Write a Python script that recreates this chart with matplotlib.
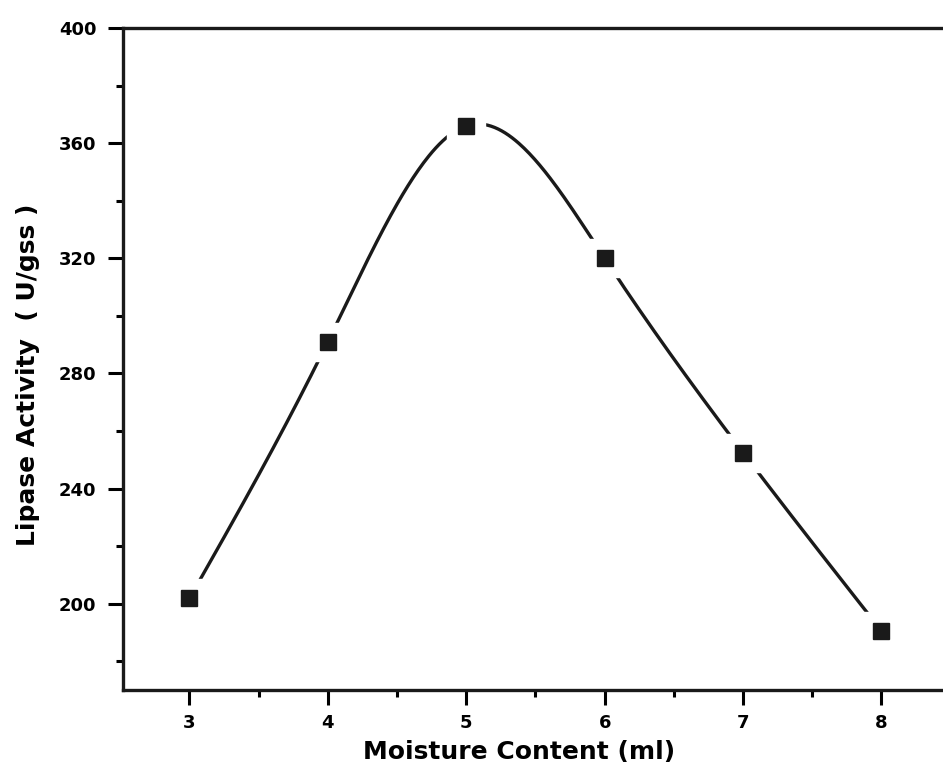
import numpy as np
import matplotlib
matplotlib.use("Agg")
import matplotlib.pyplot as plt
from matplotlib.ticker import MultipleLocator

moisture = [3, 4, 5, 6, 7, 8]
activity = [201.8, 291.0, 366.0, 320.0, 252.5, 190.6]
yticks = [200, 240, 280, 320, 360, 400]
xticks = [3, 4, 5, 6, 7, 8]


def natural_spline(x, y, n=400):
    x = np.asarray(x, float); y = np.asarray(y, float)
    k = len(x)
    h = np.diff(x)
    A = np.zeros((k, k)); b = np.zeros(k)
    A[0, 0] = 1; A[-1, -1] = 1
    for i in range(1, k - 1):
        A[i, i - 1] = h[i - 1]
        A[i, i] = 2 * (h[i - 1] + h[i])
        A[i, i + 1] = h[i]
        b[i] = 3 * ((y[i + 1] - y[i]) / h[i] - (y[i] - y[i - 1]) / h[i - 1])
    c = np.linalg.solve(A, b)
    xs = np.linspace(x[0], x[-1], n)
    ys = np.empty_like(xs)
    for j, xv in enumerate(xs):
        i = min(np.searchsorted(x, xv, side="right") - 1, k - 2)
        dx = xv - x[i]
        bi = (y[i + 1] - y[i]) / h[i] - h[i] * (2 * c[i] + c[i + 1]) / 3
        di = (c[i + 1] - c[i]) / (3 * h[i])
        ys[j] = y[i] + bi * dx + c[i] * dx ** 2 + di * dx ** 3
    return xs, ys


plt.rcParams['font.family'] = ['DejaVu Sans']
plt.rcParams['font.weight'] = 'bold'

fig = plt.figure(figsize=(9.43, 7.68), dpi=100)
W, H = 943, 768
x0, x1 = 2.52, 8.5
px_per_x = 138.4
left_px = 123
right_px = left_px + (x1 - x0) * px_per_x
ax = fig.add_axes([left_px / W, (H - 690) / H, (right_px - left_px) / W, (690 - 28) / H])

xs, ys = natural_spline(moisture, activity)
ax.plot(xs, ys, color='#1a1a1a', lw=2.4, zorder=2)
ax.plot(moisture, activity, ls='none', marker='s', ms=28, color='white', mec='white', zorder=3)
ax.plot(moisture, activity, ls='none', marker='s', ms=12, color='#1a1a1a', mec='#1a1a1a', zorder=4)

ax.set_xlim(x0, x1)
ax.set_ylim(170, 400)
ax.set_xticks(xticks)
ax.set_yticks(yticks)
ax.xaxis.set_minor_locator(MultipleLocator(0.5))
ax.yaxis.set_minor_locator(MultipleLocator(20))
ax.tick_params(which='major', direction='out', length=11, width=2.2, labelsize=13)
ax.tick_params(axis='y', which='major', pad=8)
ax.tick_params(axis='x', which='major', pad=6)
ax.tick_params(which='minor', direction='out', length=5, width=2.2)
ax.tick_params(top=False, right=False)
for s in ['left', 'bottom', 'top']:
    ax.spines[s].set_linewidth(2.4)
    ax.spines[s].set_color('#1a1a1a')
ax.spines['right'].set_visible(False)
for lab in ax.get_xticklabels() + ax.get_yticklabels():
    lab.set_fontweight('bold')

ax.set_xlabel('Moisture Content (ml)', fontsize=18, fontweight='bold')
ax.set_ylabel('Lipase Activity  ( U/gss )', fontsize=18, fontweight='bold')
ax.xaxis.set_label_coords((519 - left_px) / (right_px - left_px), -(752 - 690) / (690 - 28))
ax.xaxis.label.set_va('center')
ax.yaxis.set_label_coords(-(123 - 28) / (right_px - left_px), (690 - 375) / (690 - 28))
ax.yaxis.label.set_va('center')

fig.savefig('out.png', dpi=100)
